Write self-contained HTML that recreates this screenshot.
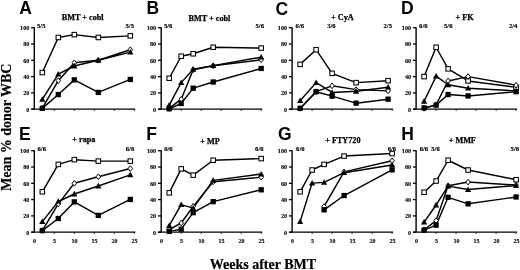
<!DOCTYPE html>
<html><head><meta charset="utf-8"><style>
html,body{margin:0;padding:0;background:#fff;}
body{width:520px;height:270px;overflow:hidden;}
svg{display:block;filter:grayscale(1);}
.tk{font-family:"Liberation Serif",serif;font-weight:bold;font-size:7.1px;fill:#000;stroke:#000;stroke-width:0.12px;}
.fr{font-family:"Liberation Serif",serif;font-weight:bold;font-size:6.6px;fill:#000;stroke:#000;stroke-width:0.15px;}
.ti{font-family:"Liberation Serif",serif;font-weight:bold;font-size:8.2px;fill:#000;stroke:#000;stroke-width:0.25px;}
.pl{font-family:"Liberation Sans",sans-serif;font-weight:bold;font-size:17.5px;fill:#000;}
.ax{font-family:"Liberation Serif",serif;font-weight:bold;font-size:14px;fill:#000;stroke:#000;stroke-width:0.2px;}
</style></head><body>
<svg width="520" height="270" viewBox="0 0 520 270">
<rect width="520" height="270" fill="#fff"/>
<path d="M34.3 27.2V109.2" stroke="#000" stroke-width="1.4" fill="none"/>
<path d="M31.3 109.2H135.3" stroke="#000" stroke-width="1.3" fill="none"/>
<path d="M31.1 109.2H34.3" stroke="#000" stroke-width="1.3"/>
<text class="tk" transform="translate(29.3,111.5) scale(0.87,1)" text-anchor="end">0</text>
<path d="M31.1 92.9H34.3" stroke="#000" stroke-width="1.3"/>
<text class="tk" transform="translate(29.3,95.2) scale(0.87,1)" text-anchor="end">20</text>
<path d="M31.1 76.6H34.3" stroke="#000" stroke-width="1.3"/>
<text class="tk" transform="translate(29.3,78.9) scale(0.87,1)" text-anchor="end">40</text>
<path d="M31.1 60.3H34.3" stroke="#000" stroke-width="1.3"/>
<text class="tk" transform="translate(29.3,62.6) scale(0.87,1)" text-anchor="end">60</text>
<path d="M31.1 44H34.3" stroke="#000" stroke-width="1.3"/>
<text class="tk" transform="translate(29.3,46.3) scale(0.87,1)" text-anchor="end">80</text>
<path d="M31.1 27.7H34.3" stroke="#000" stroke-width="1.3"/>
<text class="tk" transform="translate(29.3,30) scale(0.87,1)" text-anchor="end">100</text>
<path d="M54.3 109.2V111" stroke="#000" stroke-width="0.8"/>
<path d="M74.3 109.2V111" stroke="#000" stroke-width="0.8"/>
<path d="M94.3 109.2V111" stroke="#000" stroke-width="0.8"/>
<path d="M114.3 109.2V111" stroke="#000" stroke-width="0.8"/>
<path d="M134.3 109.2V111" stroke="#000" stroke-width="0.8"/>
<text class="pl" x="19.2" y="13.8">A</text>
<text class="ti" x="61.8" y="19.9">BMT + cobl</text>
<text class="fr" x="37" y="27.8">5/5</text>
<text class="fr" x="125.5" y="27.8">5/5</text>
<polyline points="42.3,72.53 58.3,37.48 74.3,34.63 98.3,37.48 130.3,35.85" fill="none" stroke="#000" stroke-width="1.45" stroke-linejoin="round"/>
<polyline points="42.3,108.22 58.3,80.68 74.3,62.75 98.3,60.3 130.3,49.71" fill="none" stroke="#000" stroke-width="1.45" stroke-linejoin="round"/>
<polyline points="42.3,99.42 58.3,74.16 74.3,66 98.3,60.3 130.3,52.15" fill="none" stroke="#000" stroke-width="1.45" stroke-linejoin="round"/>
<polyline points="42.3,108.39 58.3,94.53 74.3,79.86 98.3,92.41 130.3,79.45" fill="none" stroke="#000" stroke-width="1.45" stroke-linejoin="round"/>
<rect x="40.05" y="70.28" width="4.5" height="4.5" fill="#fff" stroke="#000" stroke-width="1.05"/>
<rect x="56.05" y="35.23" width="4.5" height="4.5" fill="#fff" stroke="#000" stroke-width="1.05"/>
<rect x="72.05" y="32.38" width="4.5" height="4.5" fill="#fff" stroke="#000" stroke-width="1.05"/>
<rect x="96.05" y="35.23" width="4.5" height="4.5" fill="#fff" stroke="#000" stroke-width="1.05"/>
<rect x="128.05" y="33.6" width="4.5" height="4.5" fill="#fff" stroke="#000" stroke-width="1.05"/>
<polygon points="42.3,105.42 44.6,108.22 42.3,111.02 40,108.22" fill="#fff" stroke="#000" stroke-width="1"/>
<polygon points="58.3,77.88 60.6,80.68 58.3,83.48 56,80.68" fill="#fff" stroke="#000" stroke-width="1"/>
<polygon points="74.3,59.95 76.6,62.75 74.3,65.55 72,62.75" fill="#fff" stroke="#000" stroke-width="1"/>
<polygon points="98.3,57.5 100.6,60.3 98.3,63.1 96,60.3" fill="#fff" stroke="#000" stroke-width="1"/>
<polygon points="130.3,46.91 132.6,49.71 130.3,52.51 128,49.71" fill="#fff" stroke="#000" stroke-width="1"/>
<polygon points="42.3,96.22 45.4,101.82 39.2,101.82" fill="#000"/>
<polygon points="58.3,70.95 61.4,76.56 55.2,76.56" fill="#000"/>
<polygon points="74.3,62.8 77.4,68.41 71.2,68.41" fill="#000"/>
<polygon points="98.3,57.1 101.4,62.7 95.2,62.7" fill="#000"/>
<polygon points="130.3,48.95 133.4,54.55 127.2,54.55" fill="#000"/>
<rect x="39.65" y="105.73" width="5.3" height="5.3" fill="#000"/>
<rect x="55.65" y="91.88" width="5.3" height="5.3" fill="#000"/>
<rect x="71.65" y="77.21" width="5.3" height="5.3" fill="#000"/>
<rect x="95.65" y="89.76" width="5.3" height="5.3" fill="#000"/>
<rect x="127.65" y="76.8" width="5.3" height="5.3" fill="#000"/>
<path d="M161.2 27.2V109.2" stroke="#000" stroke-width="1.4" fill="none"/>
<path d="M158.2 109.2H262.2" stroke="#000" stroke-width="1.3" fill="none"/>
<path d="M158 109.2H161.2" stroke="#000" stroke-width="1.3"/>
<text class="tk" transform="translate(156.2,111.5) scale(0.87,1)" text-anchor="end">0</text>
<path d="M158 92.9H161.2" stroke="#000" stroke-width="1.3"/>
<text class="tk" transform="translate(156.2,95.2) scale(0.87,1)" text-anchor="end">20</text>
<path d="M158 76.6H161.2" stroke="#000" stroke-width="1.3"/>
<text class="tk" transform="translate(156.2,78.9) scale(0.87,1)" text-anchor="end">40</text>
<path d="M158 60.3H161.2" stroke="#000" stroke-width="1.3"/>
<text class="tk" transform="translate(156.2,62.6) scale(0.87,1)" text-anchor="end">60</text>
<path d="M158 44H161.2" stroke="#000" stroke-width="1.3"/>
<text class="tk" transform="translate(156.2,46.3) scale(0.87,1)" text-anchor="end">80</text>
<path d="M158 27.7H161.2" stroke="#000" stroke-width="1.3"/>
<text class="tk" transform="translate(156.2,30) scale(0.87,1)" text-anchor="end">100</text>
<path d="M181.2 109.2V111" stroke="#000" stroke-width="0.8"/>
<path d="M201.2 109.2V111" stroke="#000" stroke-width="0.8"/>
<path d="M221.2 109.2V111" stroke="#000" stroke-width="0.8"/>
<path d="M241.2 109.2V111" stroke="#000" stroke-width="0.8"/>
<path d="M261.2 109.2V111" stroke="#000" stroke-width="0.8"/>
<text class="pl" x="146.5" y="14.2">B</text>
<text class="ti" x="188.5" y="21">BMT + cobl</text>
<text class="fr" x="163.9" y="27.8">5/6</text>
<text class="fr" x="255.5" y="27.8">5/6</text>
<polyline points="169.2,78.23 181.2,56.23 193.2,53.78 213.2,47.26 261.2,48.08" fill="none" stroke="#000" stroke-width="1.45" stroke-linejoin="round"/>
<polyline points="169.2,108.39 181.2,99.18 193.2,69.67 213.2,65.76 261.2,59.81" fill="none" stroke="#000" stroke-width="1.45" stroke-linejoin="round"/>
<polyline points="169.2,105.12 181.2,82.63 193.2,69.27 213.2,65.6 261.2,57.2" fill="none" stroke="#000" stroke-width="1.45" stroke-linejoin="round"/>
<polyline points="169.2,108.79 181.2,103.5 193.2,88.17 213.2,81.98 261.2,68.45" fill="none" stroke="#000" stroke-width="1.45" stroke-linejoin="round"/>
<rect x="166.95" y="75.98" width="4.5" height="4.5" fill="#fff" stroke="#000" stroke-width="1.05"/>
<rect x="178.95" y="53.98" width="4.5" height="4.5" fill="#fff" stroke="#000" stroke-width="1.05"/>
<rect x="190.95" y="51.53" width="4.5" height="4.5" fill="#fff" stroke="#000" stroke-width="1.05"/>
<rect x="210.95" y="45.01" width="4.5" height="4.5" fill="#fff" stroke="#000" stroke-width="1.05"/>
<rect x="258.95" y="45.83" width="4.5" height="4.5" fill="#fff" stroke="#000" stroke-width="1.05"/>
<polygon points="169.2,105.59 171.5,108.39 169.2,111.19 166.9,108.39" fill="#fff" stroke="#000" stroke-width="1"/>
<polygon points="181.2,96.38 183.5,99.18 181.2,101.98 178.9,99.18" fill="#fff" stroke="#000" stroke-width="1"/>
<polygon points="193.2,66.87 195.5,69.67 193.2,72.47 190.9,69.67" fill="#fff" stroke="#000" stroke-width="1"/>
<polygon points="213.2,62.96 215.5,65.76 213.2,68.56 210.9,65.76" fill="#fff" stroke="#000" stroke-width="1"/>
<polygon points="261.2,57.01 263.5,59.81 261.2,62.61 258.9,59.81" fill="#fff" stroke="#000" stroke-width="1"/>
<polygon points="169.2,101.92 172.3,107.53 166.1,107.53" fill="#000"/>
<polygon points="181.2,79.43 184.3,85.03 178.1,85.03" fill="#000"/>
<polygon points="193.2,66.07 196.3,71.67 190.1,71.67" fill="#000"/>
<polygon points="213.2,62.4 216.3,68 210.1,68" fill="#000"/>
<polygon points="261.2,54 264.3,59.6 258.1,59.6" fill="#000"/>
<rect x="166.55" y="106.14" width="5.3" height="5.3" fill="#000"/>
<rect x="178.55" y="100.84" width="5.3" height="5.3" fill="#000"/>
<rect x="190.55" y="85.52" width="5.3" height="5.3" fill="#000"/>
<rect x="210.55" y="79.33" width="5.3" height="5.3" fill="#000"/>
<rect x="258.55" y="65.8" width="5.3" height="5.3" fill="#000"/>
<path d="M292.1 27.2V109.2" stroke="#000" stroke-width="1.4" fill="none"/>
<path d="M289.1 109.2H393.1" stroke="#000" stroke-width="1.3" fill="none"/>
<path d="M288.9 109.2H292.1" stroke="#000" stroke-width="1.3"/>
<text class="tk" transform="translate(287.1,111.5) scale(0.87,1)" text-anchor="end">0</text>
<path d="M288.9 92.9H292.1" stroke="#000" stroke-width="1.3"/>
<text class="tk" transform="translate(287.1,95.2) scale(0.87,1)" text-anchor="end">20</text>
<path d="M288.9 76.6H292.1" stroke="#000" stroke-width="1.3"/>
<text class="tk" transform="translate(287.1,78.9) scale(0.87,1)" text-anchor="end">40</text>
<path d="M288.9 60.3H292.1" stroke="#000" stroke-width="1.3"/>
<text class="tk" transform="translate(287.1,62.6) scale(0.87,1)" text-anchor="end">60</text>
<path d="M288.9 44H292.1" stroke="#000" stroke-width="1.3"/>
<text class="tk" transform="translate(287.1,46.3) scale(0.87,1)" text-anchor="end">80</text>
<path d="M288.9 27.7H292.1" stroke="#000" stroke-width="1.3"/>
<text class="tk" transform="translate(287.1,30) scale(0.87,1)" text-anchor="end">100</text>
<path d="M312.1 109.2V111" stroke="#000" stroke-width="0.8"/>
<path d="M332.1 109.2V111" stroke="#000" stroke-width="0.8"/>
<path d="M352.1 109.2V111" stroke="#000" stroke-width="0.8"/>
<path d="M372.1 109.2V111" stroke="#000" stroke-width="0.8"/>
<path d="M392.1 109.2V111" stroke="#000" stroke-width="0.8"/>
<text class="pl" x="275.4" y="14.6">C</text>
<text class="ti" x="331" y="19.8">+ CyA</text>
<text class="fr" x="295.6" y="27.8">6/6</text>
<text class="fr" x="327.2" y="27.8">3/6</text>
<text class="fr" x="383.5" y="27.8">2/5</text>
<polyline points="300.1,64.38 316.1,49.71 332.1,73.34 356.1,82.63 388.1,80.68" fill="none" stroke="#000" stroke-width="1.45" stroke-linejoin="round"/>
<polyline points="300.1,108.39 316.1,91.68 332.1,85.81 356.1,89.64 388.1,90.86" fill="none" stroke="#000" stroke-width="1.45" stroke-linejoin="round"/>
<polyline points="300.1,100.72 316.1,82.63 332.1,92.49 356.1,91.27 388.1,87.2" fill="none" stroke="#000" stroke-width="1.45" stroke-linejoin="round"/>
<polyline points="300.1,108.39 316.1,91.68 332.1,96.16 356.1,103.17 388.1,99.18" fill="none" stroke="#000" stroke-width="1.45" stroke-linejoin="round"/>
<rect x="297.85" y="62.12" width="4.5" height="4.5" fill="#fff" stroke="#000" stroke-width="1.05"/>
<rect x="313.85" y="47.46" width="4.5" height="4.5" fill="#fff" stroke="#000" stroke-width="1.05"/>
<rect x="329.85" y="71.09" width="4.5" height="4.5" fill="#fff" stroke="#000" stroke-width="1.05"/>
<rect x="353.85" y="80.38" width="4.5" height="4.5" fill="#fff" stroke="#000" stroke-width="1.05"/>
<rect x="385.85" y="78.43" width="4.5" height="4.5" fill="#fff" stroke="#000" stroke-width="1.05"/>
<polygon points="300.1,105.59 302.4,108.39 300.1,111.19 297.8,108.39" fill="#fff" stroke="#000" stroke-width="1"/>
<polygon points="316.1,88.88 318.4,91.68 316.1,94.48 313.8,91.68" fill="#fff" stroke="#000" stroke-width="1"/>
<polygon points="332.1,83.01 334.4,85.81 332.1,88.61 329.8,85.81" fill="#fff" stroke="#000" stroke-width="1"/>
<polygon points="356.1,86.84 358.4,89.64 356.1,92.44 353.8,89.64" fill="#fff" stroke="#000" stroke-width="1"/>
<polygon points="388.1,88.06 390.4,90.86 388.1,93.66 385.8,90.86" fill="#fff" stroke="#000" stroke-width="1"/>
<polygon points="300.1,97.52 303.2,103.12 297,103.12" fill="#000"/>
<polygon points="316.1,79.43 319.2,85.03 313,85.03" fill="#000"/>
<polygon points="332.1,89.29 335.2,94.89 329,94.89" fill="#000"/>
<polygon points="356.1,88.07 359.2,93.67 353,93.67" fill="#000"/>
<polygon points="388.1,84 391.2,89.6 385,89.6" fill="#000"/>
<rect x="297.45" y="105.73" width="5.3" height="5.3" fill="#000"/>
<rect x="313.45" y="89.03" width="5.3" height="5.3" fill="#000"/>
<rect x="329.45" y="93.51" width="5.3" height="5.3" fill="#000"/>
<rect x="353.45" y="100.52" width="5.3" height="5.3" fill="#000"/>
<rect x="385.45" y="96.53" width="5.3" height="5.3" fill="#000"/>
<path d="M416.1 27.2V109.2" stroke="#000" stroke-width="1.4" fill="none"/>
<path d="M413.1 109.2H517.1" stroke="#000" stroke-width="1.3" fill="none"/>
<path d="M412.9 109.2H416.1" stroke="#000" stroke-width="1.3"/>
<text class="tk" transform="translate(411.1,111.5) scale(0.87,1)" text-anchor="end">0</text>
<path d="M412.9 92.9H416.1" stroke="#000" stroke-width="1.3"/>
<text class="tk" transform="translate(411.1,95.2) scale(0.87,1)" text-anchor="end">20</text>
<path d="M412.9 76.6H416.1" stroke="#000" stroke-width="1.3"/>
<text class="tk" transform="translate(411.1,78.9) scale(0.87,1)" text-anchor="end">40</text>
<path d="M412.9 60.3H416.1" stroke="#000" stroke-width="1.3"/>
<text class="tk" transform="translate(411.1,62.6) scale(0.87,1)" text-anchor="end">60</text>
<path d="M412.9 44H416.1" stroke="#000" stroke-width="1.3"/>
<text class="tk" transform="translate(411.1,46.3) scale(0.87,1)" text-anchor="end">80</text>
<path d="M412.9 27.7H416.1" stroke="#000" stroke-width="1.3"/>
<text class="tk" transform="translate(411.1,30) scale(0.87,1)" text-anchor="end">100</text>
<path d="M436.1 109.2V111" stroke="#000" stroke-width="0.8"/>
<path d="M456.1 109.2V111" stroke="#000" stroke-width="0.8"/>
<path d="M476.1 109.2V111" stroke="#000" stroke-width="0.8"/>
<path d="M496.1 109.2V111" stroke="#000" stroke-width="0.8"/>
<path d="M516.1 109.2V111" stroke="#000" stroke-width="0.8"/>
<text class="pl" x="401.1" y="14.2">D</text>
<text class="ti" x="455.5" y="19.7">+ FK</text>
<text class="fr" x="419.1" y="27.8">6/6</text>
<text class="fr" x="444" y="27.8">5/6</text>
<text class="fr" x="508.9" y="27.8">2/4</text>
<polyline points="424.1,76.6 436.1,47.26 448.1,68.86 468.1,80.92 516.1,87.36" fill="none" stroke="#000" stroke-width="1.45" stroke-linejoin="round"/>
<polyline points="424.1,108.39 436.1,104.72 448.1,80.92 468.1,76.6 516.1,85.16" fill="none" stroke="#000" stroke-width="1.45" stroke-linejoin="round"/>
<polyline points="424.1,101.29 436.1,76.19 448.1,84.75 468.1,88.17 516.1,90.86" fill="none" stroke="#000" stroke-width="1.45" stroke-linejoin="round"/>
<polyline points="424.1,107.9 436.1,105.12 448.1,94.53 468.1,95.92 516.1,91.68" fill="none" stroke="#000" stroke-width="1.45" stroke-linejoin="round"/>
<rect x="421.85" y="74.35" width="4.5" height="4.5" fill="#fff" stroke="#000" stroke-width="1.05"/>
<rect x="433.85" y="45.01" width="4.5" height="4.5" fill="#fff" stroke="#000" stroke-width="1.05"/>
<rect x="445.85" y="66.61" width="4.5" height="4.5" fill="#fff" stroke="#000" stroke-width="1.05"/>
<rect x="465.85" y="78.67" width="4.5" height="4.5" fill="#fff" stroke="#000" stroke-width="1.05"/>
<rect x="513.85" y="85.11" width="4.5" height="4.5" fill="#fff" stroke="#000" stroke-width="1.05"/>
<polygon points="424.1,105.59 426.4,108.39 424.1,111.19 421.8,108.39" fill="#fff" stroke="#000" stroke-width="1"/>
<polygon points="436.1,101.92 438.4,104.72 436.1,107.52 433.8,104.72" fill="#fff" stroke="#000" stroke-width="1"/>
<polygon points="448.1,78.12 450.4,80.92 448.1,83.72 445.8,80.92" fill="#fff" stroke="#000" stroke-width="1"/>
<polygon points="468.1,73.8 470.4,76.6 468.1,79.4 465.8,76.6" fill="#fff" stroke="#000" stroke-width="1"/>
<polygon points="516.1,82.36 518.4,85.16 516.1,87.96 513.8,85.16" fill="#fff" stroke="#000" stroke-width="1"/>
<polygon points="424.1,98.09 427.2,103.69 421,103.69" fill="#000"/>
<polygon points="436.1,72.99 439.2,78.59 433,78.59" fill="#000"/>
<polygon points="448.1,81.55 451.2,87.15 445,87.15" fill="#000"/>
<polygon points="468.1,84.97 471.2,90.57 465,90.57" fill="#000"/>
<polygon points="516.1,87.66 519.2,93.26 513,93.26" fill="#000"/>
<rect x="421.45" y="105.25" width="5.3" height="5.3" fill="#000"/>
<rect x="433.45" y="102.47" width="5.3" height="5.3" fill="#000"/>
<rect x="445.45" y="91.88" width="5.3" height="5.3" fill="#000"/>
<rect x="465.45" y="93.27" width="5.3" height="5.3" fill="#000"/>
<rect x="513.45" y="89.03" width="5.3" height="5.3" fill="#000"/>
<path d="M34.3 150.2V232.2" stroke="#000" stroke-width="1.4" fill="none"/>
<path d="M31.3 232.2H135.3" stroke="#000" stroke-width="1.3" fill="none"/>
<path d="M31.1 232.2H34.3" stroke="#000" stroke-width="1.3"/>
<text class="tk" transform="translate(29.3,234.5) scale(0.87,1)" text-anchor="end">0</text>
<path d="M31.1 215.9H34.3" stroke="#000" stroke-width="1.3"/>
<text class="tk" transform="translate(29.3,218.2) scale(0.87,1)" text-anchor="end">20</text>
<path d="M31.1 199.6H34.3" stroke="#000" stroke-width="1.3"/>
<text class="tk" transform="translate(29.3,201.9) scale(0.87,1)" text-anchor="end">40</text>
<path d="M31.1 183.3H34.3" stroke="#000" stroke-width="1.3"/>
<text class="tk" transform="translate(29.3,185.6) scale(0.87,1)" text-anchor="end">60</text>
<path d="M31.1 167H34.3" stroke="#000" stroke-width="1.3"/>
<text class="tk" transform="translate(29.3,169.3) scale(0.87,1)" text-anchor="end">80</text>
<path d="M31.1 150.7H34.3" stroke="#000" stroke-width="1.3"/>
<text class="tk" transform="translate(29.3,153) scale(0.87,1)" text-anchor="end">100</text>
<path d="M54.3 232.2V234" stroke="#000" stroke-width="0.8"/>
<path d="M74.3 232.2V234" stroke="#000" stroke-width="0.8"/>
<path d="M94.3 232.2V234" stroke="#000" stroke-width="0.8"/>
<path d="M114.3 232.2V234" stroke="#000" stroke-width="0.8"/>
<path d="M134.3 232.2V234" stroke="#000" stroke-width="0.8"/>
<text class="tk" transform="translate(34.6,243.2) scale(0.85,1)" text-anchor="middle">0</text>
<text class="tk" transform="translate(54.6,243.2) scale(0.85,1)" text-anchor="middle">5</text>
<text class="tk" transform="translate(74.6,243.2) scale(0.85,1)" text-anchor="middle">10</text>
<text class="tk" transform="translate(94.6,243.2) scale(0.85,1)" text-anchor="middle">15</text>
<text class="tk" transform="translate(114.6,243.2) scale(0.85,1)" text-anchor="middle">20</text>
<text class="tk" transform="translate(134.6,243.2) scale(0.85,1)" text-anchor="middle">25</text>
<text class="pl" x="18.9" y="139.9">E</text>
<text class="ti" x="72.3" y="142.3">+ rapa</text>
<text class="fr" x="37.5" y="151">6/6</text>
<text class="fr" x="125.8" y="151">6/6</text>
<polyline points="42.3,191.78 58.3,164.39 74.3,159.66 98.3,161.13 130.3,161.13" fill="none" stroke="#000" stroke-width="1.45" stroke-linejoin="round"/>
<polyline points="42.3,230.57 58.3,203.92 74.3,183.3 98.3,176.78 130.3,168.47" fill="none" stroke="#000" stroke-width="1.45" stroke-linejoin="round"/>
<polyline points="42.3,221.6 58.3,201.47 74.3,193.98 98.3,185.99 130.3,174.82" fill="none" stroke="#000" stroke-width="1.45" stroke-linejoin="round"/>
<polyline points="42.3,230.57 58.3,218.51 74.3,201.88 98.3,215.41 130.3,199.44" fill="none" stroke="#000" stroke-width="1.45" stroke-linejoin="round"/>
<rect x="40.05" y="189.53" width="4.5" height="4.5" fill="#fff" stroke="#000" stroke-width="1.05"/>
<rect x="56.05" y="162.14" width="4.5" height="4.5" fill="#fff" stroke="#000" stroke-width="1.05"/>
<rect x="72.05" y="157.41" width="4.5" height="4.5" fill="#fff" stroke="#000" stroke-width="1.05"/>
<rect x="96.05" y="158.88" width="4.5" height="4.5" fill="#fff" stroke="#000" stroke-width="1.05"/>
<rect x="128.05" y="158.88" width="4.5" height="4.5" fill="#fff" stroke="#000" stroke-width="1.05"/>
<polygon points="42.3,227.77 44.6,230.57 42.3,233.37 40,230.57" fill="#fff" stroke="#000" stroke-width="1"/>
<polygon points="58.3,201.12 60.6,203.92 58.3,206.72 56,203.92" fill="#fff" stroke="#000" stroke-width="1"/>
<polygon points="74.3,180.5 76.6,183.3 74.3,186.1 72,183.3" fill="#fff" stroke="#000" stroke-width="1"/>
<polygon points="98.3,173.98 100.6,176.78 98.3,179.58 96,176.78" fill="#fff" stroke="#000" stroke-width="1"/>
<polygon points="130.3,165.67 132.6,168.47 130.3,171.27 128,168.47" fill="#fff" stroke="#000" stroke-width="1"/>
<polygon points="42.3,218.41 45.4,224 39.2,224" fill="#000"/>
<polygon points="58.3,198.27 61.4,203.87 55.2,203.87" fill="#000"/>
<polygon points="74.3,190.78 77.4,196.38 71.2,196.38" fill="#000"/>
<polygon points="98.3,182.79 101.4,188.39 95.2,188.39" fill="#000"/>
<polygon points="130.3,171.62 133.4,177.22 127.2,177.22" fill="#000"/>
<rect x="39.65" y="227.92" width="5.3" height="5.3" fill="#000"/>
<rect x="55.65" y="215.86" width="5.3" height="5.3" fill="#000"/>
<rect x="71.65" y="199.23" width="5.3" height="5.3" fill="#000"/>
<rect x="95.65" y="212.76" width="5.3" height="5.3" fill="#000"/>
<rect x="127.65" y="196.79" width="5.3" height="5.3" fill="#000"/>
<path d="M161.2 150.2V232.2" stroke="#000" stroke-width="1.4" fill="none"/>
<path d="M158.2 232.2H262.2" stroke="#000" stroke-width="1.3" fill="none"/>
<path d="M158 232.2H161.2" stroke="#000" stroke-width="1.3"/>
<text class="tk" transform="translate(156.2,234.5) scale(0.87,1)" text-anchor="end">0</text>
<path d="M158 215.9H161.2" stroke="#000" stroke-width="1.3"/>
<text class="tk" transform="translate(156.2,218.2) scale(0.87,1)" text-anchor="end">20</text>
<path d="M158 199.6H161.2" stroke="#000" stroke-width="1.3"/>
<text class="tk" transform="translate(156.2,201.9) scale(0.87,1)" text-anchor="end">40</text>
<path d="M158 183.3H161.2" stroke="#000" stroke-width="1.3"/>
<text class="tk" transform="translate(156.2,185.6) scale(0.87,1)" text-anchor="end">60</text>
<path d="M158 167H161.2" stroke="#000" stroke-width="1.3"/>
<text class="tk" transform="translate(156.2,169.3) scale(0.87,1)" text-anchor="end">80</text>
<path d="M158 150.7H161.2" stroke="#000" stroke-width="1.3"/>
<text class="tk" transform="translate(156.2,153) scale(0.87,1)" text-anchor="end">100</text>
<path d="M181.2 232.2V234" stroke="#000" stroke-width="0.8"/>
<path d="M201.2 232.2V234" stroke="#000" stroke-width="0.8"/>
<path d="M221.2 232.2V234" stroke="#000" stroke-width="0.8"/>
<path d="M241.2 232.2V234" stroke="#000" stroke-width="0.8"/>
<path d="M261.2 232.2V234" stroke="#000" stroke-width="0.8"/>
<text class="tk" transform="translate(161.5,243.2) scale(0.85,1)" text-anchor="middle">0</text>
<text class="tk" transform="translate(181.5,243.2) scale(0.85,1)" text-anchor="middle">5</text>
<text class="tk" transform="translate(201.5,243.2) scale(0.85,1)" text-anchor="middle">10</text>
<text class="tk" transform="translate(221.5,243.2) scale(0.85,1)" text-anchor="middle">15</text>
<text class="tk" transform="translate(241.5,243.2) scale(0.85,1)" text-anchor="middle">20</text>
<text class="tk" transform="translate(261.5,243.2) scale(0.85,1)" text-anchor="middle">25</text>
<text class="pl" x="146.2" y="139.9">F</text>
<text class="ti" x="200.2" y="143.5">+ MP</text>
<text class="fr" x="164.2" y="151">6/6</text>
<text class="fr" x="255.1" y="151">6/6</text>
<polyline points="169.2,192.84 181.2,168.87 193.2,175.15 213.2,160.24 261.2,158.61" fill="none" stroke="#000" stroke-width="1.45" stroke-linejoin="round"/>
<polyline points="169.2,229.75 181.2,222.99 193.2,206.36 213.2,181.83 261.2,177.19" fill="none" stroke="#000" stroke-width="1.45" stroke-linejoin="round"/>
<polyline points="169.2,225.68 181.2,204.65 193.2,208.08 213.2,180.37 261.2,174.09" fill="none" stroke="#000" stroke-width="1.45" stroke-linejoin="round"/>
<polyline points="169.2,231.38 181.2,229.18 193.2,212.64 213.2,201.64 261.2,189.82" fill="none" stroke="#000" stroke-width="1.45" stroke-linejoin="round"/>
<rect x="166.95" y="190.59" width="4.5" height="4.5" fill="#fff" stroke="#000" stroke-width="1.05"/>
<rect x="178.95" y="166.62" width="4.5" height="4.5" fill="#fff" stroke="#000" stroke-width="1.05"/>
<rect x="190.95" y="172.9" width="4.5" height="4.5" fill="#fff" stroke="#000" stroke-width="1.05"/>
<rect x="210.95" y="157.99" width="4.5" height="4.5" fill="#fff" stroke="#000" stroke-width="1.05"/>
<rect x="258.95" y="156.36" width="4.5" height="4.5" fill="#fff" stroke="#000" stroke-width="1.05"/>
<polygon points="169.2,226.95 171.5,229.75 169.2,232.56 166.9,229.75" fill="#fff" stroke="#000" stroke-width="1"/>
<polygon points="181.2,220.19 183.5,222.99 181.2,225.79 178.9,222.99" fill="#fff" stroke="#000" stroke-width="1"/>
<polygon points="193.2,203.56 195.5,206.36 193.2,209.16 190.9,206.36" fill="#fff" stroke="#000" stroke-width="1"/>
<polygon points="213.2,179.03 215.5,181.83 213.2,184.63 210.9,181.83" fill="#fff" stroke="#000" stroke-width="1"/>
<polygon points="261.2,174.39 263.5,177.19 261.2,179.99 258.9,177.19" fill="#fff" stroke="#000" stroke-width="1"/>
<polygon points="169.2,222.48 172.3,228.08 166.1,228.08" fill="#000"/>
<polygon points="181.2,201.45 184.3,207.05 178.1,207.05" fill="#000"/>
<polygon points="193.2,204.88 196.3,210.48 190.1,210.48" fill="#000"/>
<polygon points="213.2,177.17 216.3,182.77 210.1,182.77" fill="#000"/>
<polygon points="261.2,170.89 264.3,176.49 258.1,176.49" fill="#000"/>
<rect x="166.55" y="228.73" width="5.3" height="5.3" fill="#000"/>
<rect x="178.55" y="226.53" width="5.3" height="5.3" fill="#000"/>
<rect x="190.55" y="209.99" width="5.3" height="5.3" fill="#000"/>
<rect x="210.55" y="198.99" width="5.3" height="5.3" fill="#000"/>
<rect x="258.55" y="187.17" width="5.3" height="5.3" fill="#000"/>
<path d="M292.1 150.2V232.2" stroke="#000" stroke-width="1.4" fill="none"/>
<path d="M289.1 232.2H393.1" stroke="#000" stroke-width="1.3" fill="none"/>
<path d="M288.9 232.2H292.1" stroke="#000" stroke-width="1.3"/>
<text class="tk" transform="translate(287.1,234.5) scale(0.87,1)" text-anchor="end">0</text>
<path d="M288.9 215.9H292.1" stroke="#000" stroke-width="1.3"/>
<text class="tk" transform="translate(287.1,218.2) scale(0.87,1)" text-anchor="end">20</text>
<path d="M288.9 199.6H292.1" stroke="#000" stroke-width="1.3"/>
<text class="tk" transform="translate(287.1,201.9) scale(0.87,1)" text-anchor="end">40</text>
<path d="M288.9 183.3H292.1" stroke="#000" stroke-width="1.3"/>
<text class="tk" transform="translate(287.1,185.6) scale(0.87,1)" text-anchor="end">60</text>
<path d="M288.9 167H292.1" stroke="#000" stroke-width="1.3"/>
<text class="tk" transform="translate(287.1,169.3) scale(0.87,1)" text-anchor="end">80</text>
<path d="M288.9 150.7H292.1" stroke="#000" stroke-width="1.3"/>
<text class="tk" transform="translate(287.1,153) scale(0.87,1)" text-anchor="end">100</text>
<path d="M312.1 232.2V234" stroke="#000" stroke-width="0.8"/>
<path d="M332.1 232.2V234" stroke="#000" stroke-width="0.8"/>
<path d="M352.1 232.2V234" stroke="#000" stroke-width="0.8"/>
<path d="M372.1 232.2V234" stroke="#000" stroke-width="0.8"/>
<path d="M392.1 232.2V234" stroke="#000" stroke-width="0.8"/>
<text class="tk" transform="translate(292.4,243.2) scale(0.85,1)" text-anchor="middle">0</text>
<text class="tk" transform="translate(312.4,243.2) scale(0.85,1)" text-anchor="middle">5</text>
<text class="tk" transform="translate(332.4,243.2) scale(0.85,1)" text-anchor="middle">10</text>
<text class="tk" transform="translate(352.4,243.2) scale(0.85,1)" text-anchor="middle">15</text>
<text class="tk" transform="translate(372.4,243.2) scale(0.85,1)" text-anchor="middle">20</text>
<text class="tk" transform="translate(392.4,243.2) scale(0.85,1)" text-anchor="middle">25</text>
<text class="pl" x="278.1" y="139.9">G</text>
<text class="ti" x="325.2" y="143">+ FTY720</text>
<text class="fr" x="296.1" y="151">6/6</text>
<text class="fr" x="387.7" y="151">6/6</text>
<polyline points="300.1,191.78 312.1,170.02 324.1,164.39 344.1,156.08 392.1,153.55" fill="none" stroke="#000" stroke-width="1.45" stroke-linejoin="round"/>
<polyline points="324.1,206.45 344.1,171.89 392.1,160.81" fill="none" stroke="#000" stroke-width="1.45" stroke-linejoin="round"/>
<polyline points="300.1,221.6 312.1,183.14 324.1,182.4 344.1,172.7 392.1,164.96" fill="none" stroke="#000" stroke-width="1.45" stroke-linejoin="round"/>
<polyline points="324.1,209.79 344.1,195.52 392.1,169.85" fill="none" stroke="#000" stroke-width="1.45" stroke-linejoin="round"/>
<rect x="297.85" y="189.53" width="4.5" height="4.5" fill="#fff" stroke="#000" stroke-width="1.05"/>
<rect x="309.85" y="167.77" width="4.5" height="4.5" fill="#fff" stroke="#000" stroke-width="1.05"/>
<rect x="321.85" y="162.14" width="4.5" height="4.5" fill="#fff" stroke="#000" stroke-width="1.05"/>
<rect x="341.85" y="153.83" width="4.5" height="4.5" fill="#fff" stroke="#000" stroke-width="1.05"/>
<rect x="389.85" y="151.3" width="4.5" height="4.5" fill="#fff" stroke="#000" stroke-width="1.05"/>
<polygon points="324.1,203.65 326.4,206.45 324.1,209.25 321.8,206.45" fill="#fff" stroke="#000" stroke-width="1"/>
<polygon points="344.1,169.09 346.4,171.89 344.1,174.69 341.8,171.89" fill="#fff" stroke="#000" stroke-width="1"/>
<polygon points="392.1,158.01 394.4,160.81 392.1,163.61 389.8,160.81" fill="#fff" stroke="#000" stroke-width="1"/>
<polygon points="300.1,218.41 303.2,224 297,224" fill="#000"/>
<polygon points="312.1,179.94 315.2,185.54 309,185.54" fill="#000"/>
<polygon points="324.1,179.2 327.2,184.8 321,184.8" fill="#000"/>
<polygon points="344.1,169.5 347.2,175.1 341,175.1" fill="#000"/>
<polygon points="392.1,161.76 395.2,167.36 389,167.36" fill="#000"/>
<rect x="321.45" y="207.14" width="5.3" height="5.3" fill="#000"/>
<rect x="341.45" y="192.87" width="5.3" height="5.3" fill="#000"/>
<rect x="389.45" y="167.2" width="5.3" height="5.3" fill="#000"/>
<path d="M416.1 150.2V232.2" stroke="#000" stroke-width="1.4" fill="none"/>
<path d="M413.1 232.2H517.1" stroke="#000" stroke-width="1.3" fill="none"/>
<path d="M412.9 232.2H416.1" stroke="#000" stroke-width="1.3"/>
<text class="tk" transform="translate(411.1,234.5) scale(0.87,1)" text-anchor="end">0</text>
<path d="M412.9 215.9H416.1" stroke="#000" stroke-width="1.3"/>
<text class="tk" transform="translate(411.1,218.2) scale(0.87,1)" text-anchor="end">20</text>
<path d="M412.9 199.6H416.1" stroke="#000" stroke-width="1.3"/>
<text class="tk" transform="translate(411.1,201.9) scale(0.87,1)" text-anchor="end">40</text>
<path d="M412.9 183.3H416.1" stroke="#000" stroke-width="1.3"/>
<text class="tk" transform="translate(411.1,185.6) scale(0.87,1)" text-anchor="end">60</text>
<path d="M412.9 167H416.1" stroke="#000" stroke-width="1.3"/>
<text class="tk" transform="translate(411.1,169.3) scale(0.87,1)" text-anchor="end">80</text>
<path d="M412.9 150.7H416.1" stroke="#000" stroke-width="1.3"/>
<text class="tk" transform="translate(411.1,153) scale(0.87,1)" text-anchor="end">100</text>
<path d="M436.1 232.2V234" stroke="#000" stroke-width="0.8"/>
<path d="M456.1 232.2V234" stroke="#000" stroke-width="0.8"/>
<path d="M476.1 232.2V234" stroke="#000" stroke-width="0.8"/>
<path d="M496.1 232.2V234" stroke="#000" stroke-width="0.8"/>
<path d="M516.1 232.2V234" stroke="#000" stroke-width="0.8"/>
<text class="tk" transform="translate(416.4,243.2) scale(0.85,1)" text-anchor="middle">0</text>
<text class="tk" transform="translate(436.4,243.2) scale(0.85,1)" text-anchor="middle">5</text>
<text class="tk" transform="translate(456.4,243.2) scale(0.85,1)" text-anchor="middle">10</text>
<text class="tk" transform="translate(476.4,243.2) scale(0.85,1)" text-anchor="middle">15</text>
<text class="tk" transform="translate(496.4,243.2) scale(0.85,1)" text-anchor="middle">20</text>
<text class="tk" transform="translate(516.4,243.2) scale(0.85,1)" text-anchor="middle">25</text>
<text class="pl" x="401.2" y="140">H</text>
<text class="ti" x="448.7" y="143">+ MMF</text>
<text class="fr" x="419.7" y="151">6/6</text>
<text class="fr" x="431.3" y="151">5/6</text>
<text class="fr" x="510.6" y="151">5/6</text>
<polyline points="424.1,192.26 436.1,181.02 448.1,160.24 468.1,170.02 516.1,179.71" fill="none" stroke="#000" stroke-width="1.45" stroke-linejoin="round"/>
<polyline points="424.1,229.75 436.1,220.63 448.1,185.75 468.1,182.08 516.1,185.09" fill="none" stroke="#000" stroke-width="1.45" stroke-linejoin="round"/>
<polyline points="424.1,222.18 436.1,204.98 448.1,186.15 468.1,189.58 516.1,185.5" fill="none" stroke="#000" stroke-width="1.45" stroke-linejoin="round"/>
<polyline points="424.1,230.16 436.1,225.19 448.1,197.32 468.1,203.84 516.1,196.99" fill="none" stroke="#000" stroke-width="1.45" stroke-linejoin="round"/>
<rect x="421.85" y="190.01" width="4.5" height="4.5" fill="#fff" stroke="#000" stroke-width="1.05"/>
<rect x="433.85" y="178.77" width="4.5" height="4.5" fill="#fff" stroke="#000" stroke-width="1.05"/>
<rect x="445.85" y="157.99" width="4.5" height="4.5" fill="#fff" stroke="#000" stroke-width="1.05"/>
<rect x="465.85" y="167.77" width="4.5" height="4.5" fill="#fff" stroke="#000" stroke-width="1.05"/>
<rect x="513.85" y="177.46" width="4.5" height="4.5" fill="#fff" stroke="#000" stroke-width="1.05"/>
<polygon points="424.1,226.95 426.4,229.75 424.1,232.56 421.8,229.75" fill="#fff" stroke="#000" stroke-width="1"/>
<polygon points="436.1,217.83 438.4,220.63 436.1,223.43 433.8,220.63" fill="#fff" stroke="#000" stroke-width="1"/>
<polygon points="448.1,182.94 450.4,185.75 448.1,188.55 445.8,185.75" fill="#fff" stroke="#000" stroke-width="1"/>
<polygon points="468.1,179.28 470.4,182.08 468.1,184.88 465.8,182.08" fill="#fff" stroke="#000" stroke-width="1"/>
<polygon points="516.1,182.29 518.4,185.09 516.1,187.89 513.8,185.09" fill="#fff" stroke="#000" stroke-width="1"/>
<polygon points="424.1,218.98 427.2,224.58 421,224.58" fill="#000"/>
<polygon points="436.1,201.78 439.2,207.38 433,207.38" fill="#000"/>
<polygon points="448.1,182.95 451.2,188.55 445,188.55" fill="#000"/>
<polygon points="468.1,186.38 471.2,191.98 465,191.98" fill="#000"/>
<polygon points="516.1,182.3 519.2,187.9 513,187.9" fill="#000"/>
<rect x="421.45" y="227.51" width="5.3" height="5.3" fill="#000"/>
<rect x="433.45" y="222.54" width="5.3" height="5.3" fill="#000"/>
<rect x="445.45" y="194.67" width="5.3" height="5.3" fill="#000"/>
<rect x="465.45" y="201.19" width="5.3" height="5.3" fill="#000"/>
<rect x="513.45" y="194.34" width="5.3" height="5.3" fill="#000"/>
<text class="ax" transform="translate(10.8,191) rotate(-90)">Mean % donor WBC</text>
<text class="ax" x="209.8" y="268.5">Weeks after BMT</text>
</svg>
</body></html>
